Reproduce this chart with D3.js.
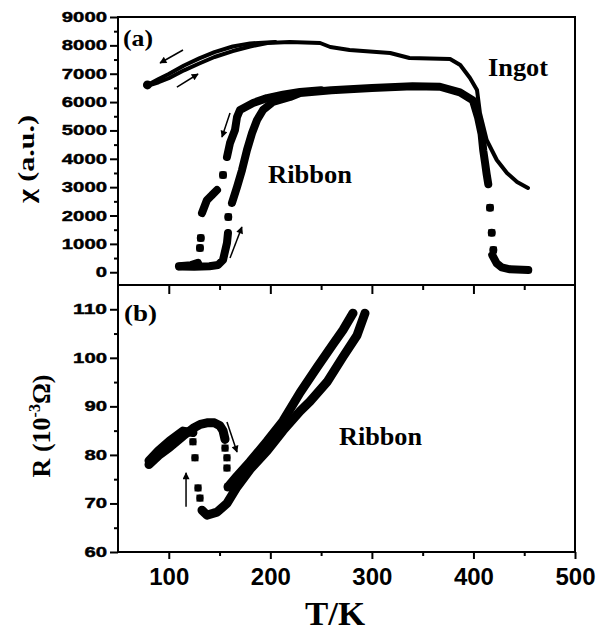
<!DOCTYPE html>
<html>
<head>
<meta charset="utf-8">
<script src="https://cdn.jsdelivr.net/npm/d3@7"></script>
<style>
  body { margin: 0; background: #fff; }
  svg { display: block; }
</style>
</head>
<body>
<div id="chart"></div>
<script>
const xMajor = [100, 200, 300, 400, 500]
const xMinor = [150, 250, 350, 450]
const chiMajor = [0, 1000, 2000, 3000, 4000, 5000, 6000, 7000, 8000, 9000]
const chiMinor = [500, 1500, 2500, 3500, 4500, 5500, 6500, 7500, 8500]
const rMajor = [60, 70, 80, 90, 100, 110]
const rMinor = [65, 75, 85, 95, 105]

// (a) ingot, [T, chi]
const ingotCool = [[205, 8118], [180, 8070], [163, 7960], [145, 7760], [130, 7540], [115, 7290], [100, 6990], [90, 6810], [79, 6600]]
const ingotHeat = [[79, 6570], [90, 6700], [100, 6840], [115, 7120], [130, 7360], [145, 7590], [163, 7800], [180, 7960], [197, 8085],
  [219, 8118], [249, 8083], [259, 7942], [278, 7836], [318, 7731], [337, 7554], [377, 7519], [387, 7307], [396.6, 6849],
  [403.5, 6426], [406.4, 5615], [413, 4663], [423, 3958], [433, 3499], [443, 3182], [453.7, 2970]]

// (a) ribbon, null separates runs; lone points are single squares
const ribbonHeat = [[111, 200], [125, 190], [140, 210], [148.5, 255], [153.4, 432], [157.3, 1031], [158.3, 1384], null,
  [158.6, 1948], null,
  [162.2, 2441], [167.2, 3006], [172.1, 3605], [177, 4310], [182, 4910], [186.9, 5368], [192.8, 5721], [202.6, 6003],
  [219.4, 6179], [229.2, 6320], [260, 6420], [300, 6500], [340, 6560], [367, 6540], [386.7, 6340], [399.5, 6058],
  [404.5, 5465], [408, 4877], [409.7, 4285], [411.4, 3870], [413, 3460], [414.6, 3105], null,
  [416.3, 2275], null, [418, 1390], null, [419.6, 784], null,
  [418.5, 608], [422.9, 315], [427.8, 174], [436, 104], [454, 79]]
const ribbonCool = [[250, 6420], [229.2, 6360], [212.5, 6260], [196.7, 6140], [183, 5970], [170.1, 5720], [167.2, 5474],
  [165.2, 5016], [160.3, 4557], [157.3, 4063], null,
  [153.4, 3429], null,
  [147.5, 2900], [142, 2700], [137.6, 2547], [132.7, 2089], null,
  [131.5, 1207], null, [130.7, 855], null,
  [128.8, 330], [122, 250], [110, 210]]

// (b) ribbon resistance, [T, R]
const rHeatLow = [[80.5, 78.0], [90, 79.9], [101, 81.6], [114, 83.9], [124, 85.5], [131, 86.3], [137.6, 86.6], [145, 86.6],
  [150.4, 86.0], [153.4, 85.0], [155.4, 83.2]]
const rHeatDrop = [[155.4, 81.4], null, [157.3, 79.4], null, [157.3, 77.3], null, [158.3, 73.4]]
const rHeatHigh = [[158.3, 73.4], [167.2, 75.6], [180, 78.6], [196.7, 82.8], [212.5, 87.0], [229.2, 92.8], [245.9, 98.0],
  [261.7, 102.8], [271.5, 105.7], [281.4, 109.2]]
const rCoolHigh = [[293.2, 109.2], [285.3, 104.6], [271.5, 100.2], [255.8, 95.0], [239, 91.0], [229.2, 89.0], [212.5, 85.0],
  [196.7, 80.8], [180, 77.0], [167.2, 73.4], [157.3, 70.0], [147.5, 68.2], [137.6, 67.6], [132.7, 68.6]]
const rCoolJump = [[130.7, 71.1], null, [128.8, 73.2], null, [125.8, 79.4], null, [123.8, 82.7]]
const rCoolLow = [[123.8, 84.6], [114, 84.9], [101, 82.9], [90, 80.9], [80.5, 78.8]]

// arrows, tail -> head
const arrowsA = [[[114, 7836], [91.4, 7378]], [[108, 6530], [128.8, 6990]], [[160.3, 5615], [152.4, 4769]], [[160.3, 502], [172, 1595]]]
const arrowsB = [[[117, 69.3], [117, 76.3]], [[157.3, 86.8], [167.2, 80.6]]]

const sans = 'Liberation Sans, Arial, sans-serif'
const serif = 'Liberation Serif, Times New Roman, serif'

const x = d3.scaleLinear().domain([50, 500]).range([118, 575])
const yA = d3.scaleLinear().domain([-450, 9000]).range([285, 17])
const yB = d3.scaleLinear().domain([60, 115]).range([552, 285])

const svg = d3.create('svg').attr('width', 606).attr('height', 633)
svg.append('rect').attr('width', 606).attr('height', 633).attr('fill', '#fff')

svg.append('defs').append('marker')
  .attr('id', 'head')
  .attr('viewBox', '0 0 10 10')
  .attr('refX', 9).attr('refY', 5)
  .attr('markerUnits', 'userSpaceOnUse')
  .attr('markerWidth', 9).attr('markerHeight', 7)
  .attr('orient', 'auto')
  .append('path').attr('d', 'M0,0L10,5L0,10z').attr('fill', '#000')

function tickAxis(axis, at, values, size, labels) {
  const g = svg.append('g').attr('transform', at)
    .call(axis.tickValues(values).tickSize(size).tickSizeOuter(0).tickFormat(labels ? d3.format('d') : ''))
  g.select('.domain').remove()
  g.selectAll('line').attr('stroke-width', 2)
  return g
}

// panel frames
svg.append('rect').attr('x', 118).attr('y', 17).attr('width', 457).attr('height', 268)
  .attr('fill', 'none').attr('stroke', '#000').attr('stroke-width', 2)
svg.append('rect').attr('x', 118).attr('y', 285).attr('width', 457).attr('height', 267)
  .attr('fill', 'none').attr('stroke', '#000').attr('stroke-width', 2)

// left axes, stretched bold digits
for (const [scale, major, minor] of [[yA, chiMajor, chiMinor], [yB, rMajor, rMinor]]) {
  const g = tickAxis(d3.axisLeft(scale).tickPadding(3), 'translate(118,0)', major, 8, true)
  g.attr('font-size', 14).attr('font-family', sans).attr('font-weight', 'bold')
  g.selectAll('text').attr('fill', '#000')
    .attr('stroke', '#000').attr('stroke-width', 0.4)
    .attr('textLength', d => String(d).length * 11.3)
    .attr('lengthAdjust', 'spacingAndGlyphs')
  tickAxis(d3.axisLeft(scale), 'translate(118,0)', minor, 4, false)
}

// x ticks
tickAxis(d3.axisBottom(x), 'translate(0,285)', xMajor.slice(0, 4), 9, false)
tickAxis(d3.axisBottom(x), 'translate(0,285)', xMinor, 5, false)
const xg = tickAxis(d3.axisBottom(x).tickPadding(9), 'translate(0,552)', xMajor, 7, true)
xg.attr('font-size', 24).attr('font-family', sans).attr('font-weight', 'bold')
xg.selectAll('text').attr('fill', '#000')
tickAxis(d3.axisBottom(x), 'translate(0,552)', xMinor, 4, false)

function drawSeries(y, data, width, square) {
  const line = d3.line()
    .defined(d => d !== null)
    .x(d => x(d[0]))
    .y(d => y(d[1]))
  svg.append('path').datum(data)
    .attr('d', line)
    .attr('fill', 'none')
    .attr('stroke', '#000')
    .attr('stroke-width', width)
    .attr('stroke-linejoin', 'round')
    .attr('stroke-linecap', 'round')
  if (square) {
    // only lone points get a square marker
    const lone = data.filter((d, i) => d !== null && !data[i - 1] && !data[i + 1])
    svg.append('g').selectAll('rect')
      .data(lone)
      .join('rect')
      .attr('x', d => x(d[0]) - square / 2)
      .attr('y', d => y(d[1]) - square / 2)
      .attr('width', square)
      .attr('height', square)
      .attr('fill', '#000')
  }
}

drawSeries(yA, ingotCool, 4, 0)
drawSeries(yA, ingotHeat, 4, 0)
svg.append('circle').attr('cx', x(ingotHeat[0][0])).attr('cy', yA(ingotHeat[0][1]) - 1).attr('r', 4.5)
drawSeries(yA, ribbonHeat, 8, 7)
drawSeries(yA, ribbonCool, 8, 7)

drawSeries(yB, rHeatLow, 9, 8)
drawSeries(yB, rCoolLow, 9, 8)
drawSeries(yB, rHeatDrop, 7, 7)
drawSeries(yB, rCoolJump, 7, 7)
drawSeries(yB, rHeatHigh, 9, 8)
drawSeries(yB, rCoolHigh, 9, 8)

function drawArrows(y, list) {
  svg.append('g').selectAll('line')
    .data(list)
    .join('line')
    .attr('x1', d => x(d[0][0])).attr('y1', d => y(d[0][1]))
    .attr('x2', d => x(d[1][0])).attr('y2', d => y(d[1][1]))
    .attr('stroke', '#000')
    .attr('stroke-width', 1.5)
    .attr('marker-end', 'url(#head)')
}
drawArrows(yA, arrowsA)
drawArrows(yB, arrowsB)

function label(text, px, py, size, opts = {}) {
  const t = svg.append('text')
    .attr('x', px).attr('y', py)
    .attr('font-family', serif)
    .attr('font-weight', 'bold')
    .attr('font-size', size)
    .attr('text-anchor', opts.anchor || 'start')
    .text(text)
  if (opts.length) t.attr('textLength', opts.length).attr('lengthAdjust', 'spacingAndGlyphs')
  return t
}

label('(a)', 123, 46, 23, { length: 30 })
label('(b)', 124, 321, 23, { length: 33 })
label('Ingot', 488, 76, 25, { length: 60 })
label('Ribbon', 268, 183, 26, { length: 84 })
label('Ribbon', 339, 445, 26, { length: 83 })
label('T/K', 335, 625, 33, { anchor: 'middle', length: 60 })

svg.append('text')
  .attr('transform', 'translate(34,159) rotate(-90)')
  .attr('font-family', serif).attr('font-weight', 'bold').attr('font-size', 24)
  .attr('text-anchor', 'middle')
  .attr('textLength', 88).attr('lengthAdjust', 'spacingAndGlyphs')
  .text('χ (a.u.)')

const rLabel = svg.append('text')
  .attr('transform', 'translate(50,426) rotate(-90)')
  .attr('font-family', serif).attr('font-weight', 'bold').attr('font-size', 26)
  .attr('text-anchor', 'middle')
rLabel.append('tspan').text('R (10')
rLabel.append('tspan').attr('dy', -10).attr('font-size', 16).text('-3')
rLabel.append('tspan').attr('dy', 10).text('Ω)')

d3.select('#chart').append(() => svg.node())
</script>
</body>
</html>
